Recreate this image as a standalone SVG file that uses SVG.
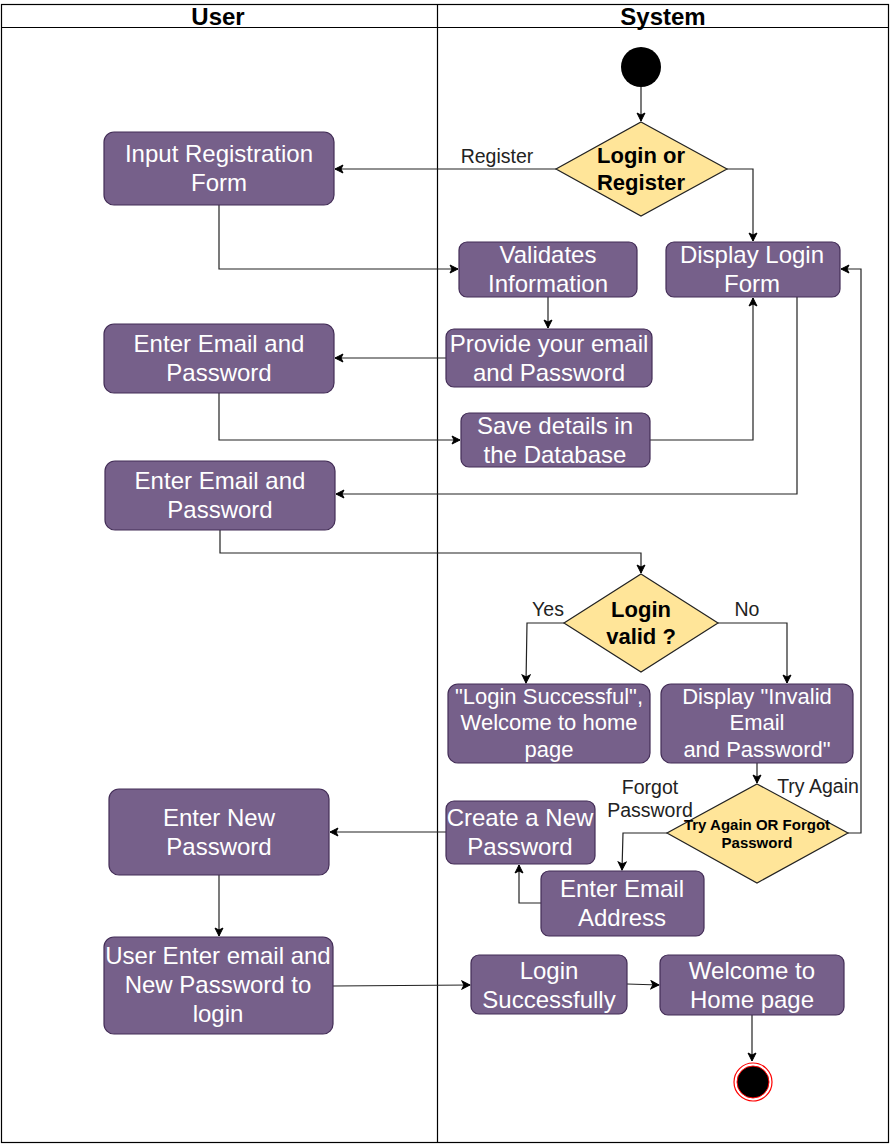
<svg xmlns="http://www.w3.org/2000/svg" width="891" height="1144" viewBox="0 0 891 1144">
<defs>
<marker id="arr" markerWidth="10" markerHeight="10" refX="9" refY="5" orient="auto" markerUnits="userSpaceOnUse">
<path d="M1,1 L9,5 L1,9 L3,5 Z" fill="#000" stroke="#000" stroke-width="1"/>
</marker>
<style>
.lane{fill:none;stroke:#000;stroke-width:1.2}
.hdr{font-family:"Liberation Sans",Arial,sans-serif;font-size:24px;font-weight:bold;fill:#000;text-anchor:middle}
.act rect{fill:#76608A;stroke:#432D57;stroke-width:1.2}
.act text{font-family:"Liberation Sans",Arial,sans-serif;font-size:24px;fill:#fff;text-anchor:middle}
.act text.s{font-size:22px}
.dec polygon{fill:#FFE599;stroke:#222;stroke-width:1.2}
.dec text{font-family:"Liberation Sans",Arial,sans-serif;font-size:22px;font-weight:bold;fill:#000;text-anchor:middle}
.dec text.sm{font-size:15px}
.conn path{fill:none;stroke:#222;stroke-width:1.2;marker-end:url(#arr)}
.lbl{font-family:"Liberation Sans",Arial,sans-serif;font-size:19.5px;fill:#222;text-anchor:middle}
</style>
</defs>
<rect width="891" height="1144" fill="#fff"/>
<g id="swimlanes">
<rect class="lane" x="1.5" y="4.5" width="887" height="1138"/>
<line class="lane" x1="1.5" y1="27.5" x2="888.5" y2="27.5"/>
<line class="lane" x1="437.5" y1="4.5" x2="437.5" y2="1142.5"/>
<text class="hdr" x="218" y="25">User</text>
<text class="hdr" x="663" y="25">System</text>
</g>
<g id="connectors" class="conn">
<path d="M641,87 L641,121"/>
<path d="M556,169 L335,169"/>
<path d="M727,169 L753,169 L753,241"/>
<path d="M219,205 L219,269 L458,269"/>
<path d="M548,297 L548,328"/>
<path d="M446,358 L335,358"/>
<path d="M219,393 L219,440 L460,440"/>
<path d="M650,440 L753,440 L753,298"/>
<path d="M797,297 L797,494 L336,494"/>
<path d="M220,530 L220,553 L641,553 L641,573"/>
<path d="M564,623 L527,623 L526,683"/>
<path d="M718,623 L787,623 L787,683"/>
<path d="M757,763 L757,783"/>
<path d="M848,833 L861,833 L861,269 L841,269"/>
<path d="M667,833 L623,833 L622,870"/>
<path d="M541,903 L519,903 L519,865"/>
<path d="M446,832 L330,832"/>
<path d="M219,875 L219,936"/>
<path d="M333,986 L470,985"/>
<path d="M627,984 L659,985"/>
<path d="M752,1015 L752,1061"/>
<text class="lbl" x="497" y="163">Register</text>
<text class="lbl" x="548" y="616">Yes</text>
<text class="lbl" x="747" y="616">No</text>
<text class="lbl" x="818" y="793">Try Again</text>
<text class="lbl" x="650" y="794">Forgot</text>
<text class="lbl" x="650" y="817">Password</text>
</g>
<g id="start"><circle cx="641" cy="67" r="20" fill="#000"/></g>
<g id="end"><circle cx="753" cy="1082" r="19" fill="#fff" stroke="#f00" stroke-width="1.2"/><circle cx="753" cy="1082" r="16" fill="#000" stroke="#f00" stroke-width="1"/></g>
<g id="d-login-register" class="dec"><polygon points="641,122 727,169 641,216 556,169"/><text x="641" y="163">Login or</text><text x="641" y="190">Register</text></g>
<g id="d-login-valid" class="dec"><polygon points="641,574 718,623 641,672 564,623"/><text x="641" y="617">Login</text><text x="641" y="644">valid ?</text></g>
<g id="d-try-forgot" class="dec"><polygon points="757,784 848,833 757,883 667,833"/><text class="sm" x="757" y="830">Try Again OR Forgot</text><text class="sm" x="757" y="848">Password</text></g>
<g id="n-input-reg" class="act"><rect x="104" y="132" width="230" height="73" rx="10"/><text x="219" y="162">Input Registration</text><text x="219" y="191">Form</text></g>
<g id="n-enter-email-1" class="act"><rect x="104" y="324" width="230" height="69" rx="10"/><text x="219" y="352">Enter Email and</text><text x="219" y="381">Password</text></g>
<g id="n-enter-email-2" class="act"><rect x="105" y="461" width="230" height="69" rx="10"/><text x="220" y="489">Enter Email and</text><text x="220" y="518">Password</text></g>
<g id="n-enter-new-pw" class="act"><rect x="109" y="789" width="220" height="86" rx="10"/><text x="219" y="826">Enter New</text><text x="219" y="855">Password</text></g>
<g id="n-user-enter" class="act"><rect x="104" y="937" width="229" height="97" rx="10"/><text x="218" y="964">User Enter email and</text><text x="218" y="993">New Password to</text><text x="218" y="1022">login</text></g>
<g id="n-validates" class="act"><rect x="459" y="242" width="178" height="55" rx="8"/><text x="548" y="263">Validates</text><text x="548" y="292">Information</text></g>
<g id="n-display-login" class="act"><rect x="666" y="242" width="174" height="55" rx="8"/><text x="752" y="263">Display Login</text><text x="752" y="292">Form</text></g>
<g id="n-provide" class="act"><rect x="446" y="329" width="206" height="58" rx="8"/><text x="549" y="352">Provide your email</text><text x="549" y="381">and Password</text></g>
<g id="n-save" class="act"><rect x="461" y="413" width="189" height="54" rx="8"/><text x="555" y="434">Save details in</text><text x="555" y="463">the Database</text></g>
<g id="n-login-success" class="act"><rect x="448" y="684" width="202" height="79" rx="10"/><text class="s" x="549" y="704">"Login Successful",</text><text class="s" x="549" y="730">Welcome to home</text><text class="s" x="549" y="757">page</text></g>
<g id="n-invalid" class="act"><rect x="661" y="684" width="192" height="79" rx="10"/><text class="s" x="757" y="704">Display "Invalid</text><text class="s" x="757" y="730">Email</text><text class="s" x="757" y="757">and Password"</text></g>
<g id="n-create-pw" class="act"><rect x="446" y="801" width="149" height="63" rx="8"/><text x="520" y="826">Create a New</text><text x="520" y="855">Password</text></g>
<g id="n-enter-email-addr" class="act"><rect x="541" y="871" width="163" height="65" rx="8"/><text x="622" y="897">Enter Email</text><text x="622" y="926">Address</text></g>
<g id="n-login-successfully" class="act"><rect x="471" y="955" width="156" height="59" rx="8"/><text x="549" y="979">Login</text><text x="549" y="1008">Successfully</text></g>
<g id="n-welcome" class="act"><rect x="660" y="955" width="184" height="60" rx="8"/><text x="752" y="979">Welcome to</text><text x="752" y="1008">Home page</text></g>
</svg>
